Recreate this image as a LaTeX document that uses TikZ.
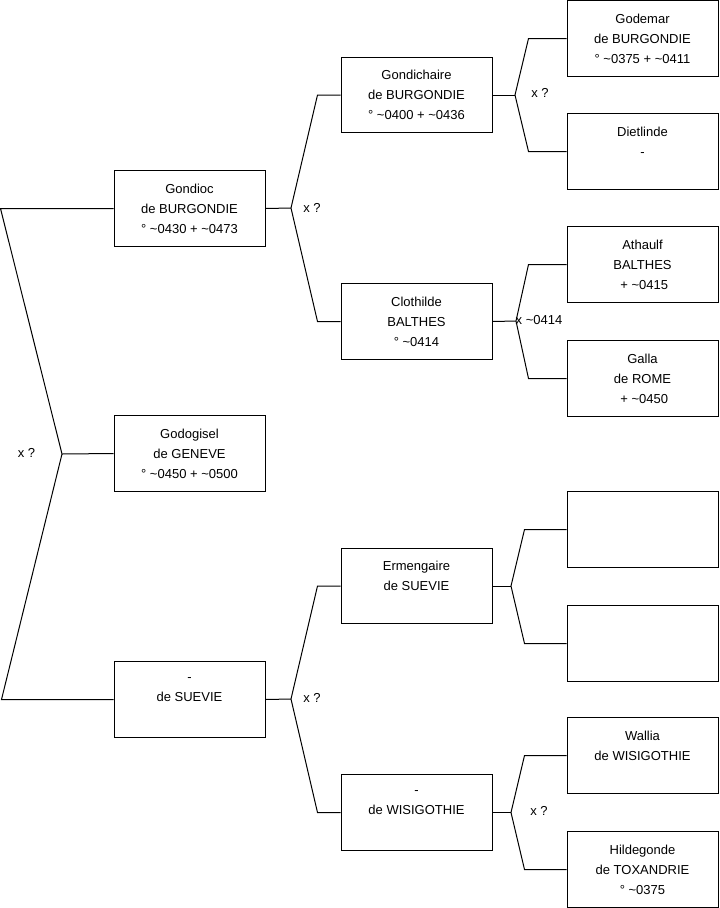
\documentclass[tikz,border=0pt]{standalone}
\usepackage{fontspec}
\setmainfont{Liberation Sans}
\usepackage{tikz}
\usetikzlibrary{calc}

\begin{document}
\begin{tikzpicture}[x=0.75pt,y=-0.75pt,line width=0.75pt,
    person/.style={draw,rectangle,minimum width=113.25pt,minimum height=56.6pt,
      inner sep=0pt,align=center,font=\fontsize{9.75}{15}\selectfont},
    union/.style={inner sep=0pt,font=\fontsize{9.75}{15}\selectfont}]
    \useasboundingbox (0,0) rectangle (719,908);
    \def\cA{189.5}
    \def\cB{416.5}
    \def\cC{642.5}
    \node[person] (gondioc) at (\cA,208.5) {Gondioc\\de BURGONDIE\\\textdegree{} \textasciitilde0430 + \textasciitilde0473};
    \node[person] (godogisel) at (\cA,453.5) {Godogisel\\de GENEVE\\\textdegree{} \textasciitilde0450 + \textasciitilde0500};
    \node[person] (suevie) at (\cA,699.5) {-\\de SUEVIE\\\mbox{}};
    \node[person] (gondichaire) at (\cB,95) {Gondichaire\\de BURGONDIE\\\textdegree{} \textasciitilde0400 + \textasciitilde0436};
    \node[person] (clothilde) at (\cB,321.5) {Clothilde\\BALTHES\\\textdegree{} \textasciitilde0414};
    \node[person] (ermengaire) at (\cB,586) {Ermengaire\\de SUEVIE\\\mbox{}};
    \node[person] (wisigothie) at (\cB,812.5) {-\\de WISIGOTHIE\\\mbox{}};
    \node[person] (godemar) at (\cC,38.5) {Godemar\\de BURGONDIE\\\textdegree{} \textasciitilde0375 + \textasciitilde0411};
    \node[person] (dietlinde) at (\cC,151.5) {Dietlinde\\-\\\mbox{}};
    \node[person] (athaulf) at (\cC,264.5) {Athaulf\\BALTHES\\\ + \textasciitilde0415};
    \node[person] (galla) at (\cC,378.5) {Galla\\de ROME\\\ + \textasciitilde0450};
    \node[person] (inconnu1) at (\cC,529.5) {};
    \node[person] (inconnu2) at (\cC,643.5) {};
    \node[person] (wallia) at (\cC,755.5) {Wallia\\de WISIGOTHIE\\\mbox{}};
    \node[person] (hildegonde) at (\cC,869.5) {Hildegonde\\de TOXANDRIE\\\textdegree{} \textasciitilde0375};
    \coordinate (f0) at (62,454);
    \coordinate (f1) at (291,208);
    \coordinate (f2) at (291,699);
    \coordinate (f3) at (515,95);
    \coordinate (f4) at (516,321);
    \coordinate (f5) at (511,586);
    \coordinate (f6) at (511,812.5);
    \draw (godogisel.west) -- (f0);
    \draw (gondioc.west) -- ++(-113,0) -- (f0) -- ($(suevie.west)+(-112,0)$) -- (suevie.west);
    \draw (gondioc.east) -- (f1);
    \draw (gondichaire.west) -- ++(-23,0) -- (f1) -- ($(clothilde.west)+(-23,0)$) -- (clothilde.west);
    \draw (suevie.east) -- (f2);
    \draw (ermengaire.west) -- ++(-23,0) -- (f2) -- ($(wisigothie.west)+(-23,0)$) -- (wisigothie.west);
    \draw (gondichaire.east) -- (f3);
    \draw (godemar.west) -- ++(-38,0) -- (f3) -- ($(dietlinde.west)+(-38,0)$) -- (dietlinde.west);
    \draw (clothilde.east) -- (f4);
    \draw (athaulf.west) -- ++(-38,0) -- (f4) -- ($(galla.west)+(-38,0)$) -- (galla.west);
    \draw (ermengaire.east) -- (f5);
    \draw (inconnu1.west) -- ++(-42,0) -- (f5) -- ($(inconnu2.west)+(-42,0)$) -- (inconnu2.west);
    \draw (wisigothie.east) -- (f6);
    \draw (wallia.west) -- ++(-42,0) -- (f6) -- ($(hildegonde.west)+(-42,0)$) -- (hildegonde.west);
    \node[union] (u0) at (26.5,452.5) {x ?};
    \node[union] (u1) at (312,207.5) {x ?};
    \node[union] (u2) at (312,698) {x ?};
    \node[union] (u3) at (540,93) {x ?};
    \node[union] (u4) at (539,320) {x \textasciitilde0414};
    \node[union] (u6) at (539,811) {x ?};
  \end{tikzpicture}
\end{document}
